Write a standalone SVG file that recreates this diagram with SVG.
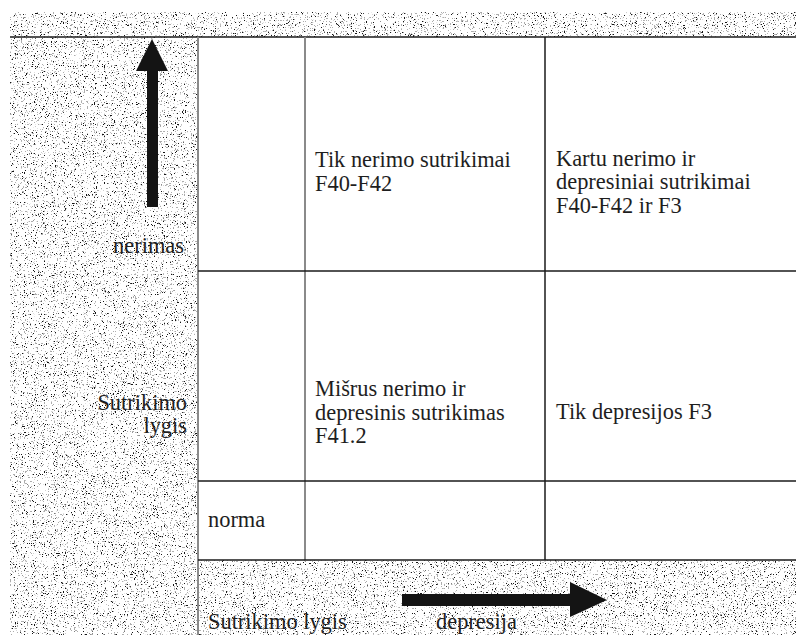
<svg xmlns="http://www.w3.org/2000/svg" width="796" height="635" viewBox="0 0 796 635">
  <style>
    .t { font-family: "Liberation Serif", "Times New Roman", serif; font-size: 22.4px; fill: #1e1e1e; }
    .r { text-anchor: end; }
    .dark { stroke: #1a1a1a; stroke-width: 1.5; fill: none; }
    .gray { stroke: #8a8a8a; stroke-width: 2; fill: none; }
    .arrow { fill: #141414; stroke: none; }
  </style>
  <defs>
    <filter id="grain" x="0" y="0" width="1" height="1" color-interpolation-filters="sRGB">
      <feFlood flood-color="#ffffff" result="bg"/>
      <feTurbulence type="fractalNoise" baseFrequency="0.7" numOctaves="3" seed="2" result="n1"/>
      <feColorMatrix in="n1" type="matrix" values="0 0 0 0 0.68  0 0 0 0 0.68  0 0 0 0 0.68  -30 0 0 0 10.8" result="grayDots"/>
      <feTurbulence type="fractalNoise" baseFrequency="0.9" numOctaves="2" seed="9" result="n2"/>
      <feColorMatrix in="n2" type="matrix" values="0 0 0 0 0.08  0 0 0 0 0.08  0 0 0 0 0.08  0 -30 0 0 9.3" result="blackDots"/>
      <feMerge>
        <feMergeNode in="bg"/>
        <feMergeNode in="grayDots"/>
        <feMergeNode in="blackDots"/>
      </feMerge>
    </filter>
  </defs>

  <rect width="796" height="635" fill="#ffffff"/>

  <!-- grainy background areas -->
  <g id="background">
    <rect x="10" y="12" width="786" height="25" fill="#fff" filter="url(#grain)"/>
    <rect x="10" y="37" width="188" height="598" fill="#fff" filter="url(#grain)"/>
    <rect x="198" y="560" width="598" height="75" fill="#fff" filter="url(#grain)"/>
  </g>

  <!-- table grid -->
  <g id="connectors">
    <line class="dark" x1="10" y1="37" x2="796" y2="37"/>
    <line class="gray" x1="198" y1="37" x2="198" y2="635"/>
    <line class="gray" x1="305" y1="37" x2="305" y2="560"/>
    <line class="dark" x1="545" y1="37" x2="545" y2="560"/>
    <line class="dark" x1="198" y1="271" x2="796" y2="271"/>
    <line class="dark" x1="198" y1="481" x2="796" y2="481"/>
    <line class="dark" x1="198" y1="560" x2="796" y2="560"/>
  </g>

  <g id="arrow-up">
    <polygon class="arrow" points="152,39 168,71 158,71 158,207 147,207 147,71 136,71"/>
  </g>
  <g id="arrow-right">
    <polygon class="arrow" points="607,600 570,582 570,594 402,594 402,606 570,606 570,617"/>
  </g>

  <g id="label-nerimas">
    <text class="t r" x="184" y="253">nerimas</text>
  </g>
  <g id="label-sutrikimo-lygis-y">
    <text class="t r" x="187" y="410">Sutrikimo</text>
    <text class="t r" x="187" y="433">lygis</text>
  </g>
  <g id="cell-tik-nerimo">
    <text class="t" x="315" y="167">Tik nerimo sutrikimai</text>
    <text class="t" x="315" y="191">F40-F42</text>
  </g>
  <g id="cell-kartu">
    <text class="t" x="556" y="166">Kartu nerimo ir</text>
    <text class="t" x="556" y="189">depresiniai sutrikimai</text>
    <text class="t" x="556" y="213">F40-F42 ir F3</text>
  </g>
  <g id="cell-misrus">
    <text class="t" x="315" y="396">Mišrus nerimo ir</text>
    <text class="t" x="315" y="420">depresinis sutrikimas</text>
    <text class="t" x="315" y="443">F41.2</text>
  </g>
  <g id="cell-tik-depresijos">
    <text class="t" x="556" y="419">Tik depresijos F3</text>
  </g>
  <g id="cell-norma">
    <text class="t" x="208" y="527">norma</text>
  </g>
  <g id="label-sutrikimo-lygis-x">
    <text class="t" x="208" y="629">Sutrikimo lygis</text>
  </g>
  <g id="label-depresija">
    <text class="t" x="436" y="629">depresija</text>
  </g>
</svg>
